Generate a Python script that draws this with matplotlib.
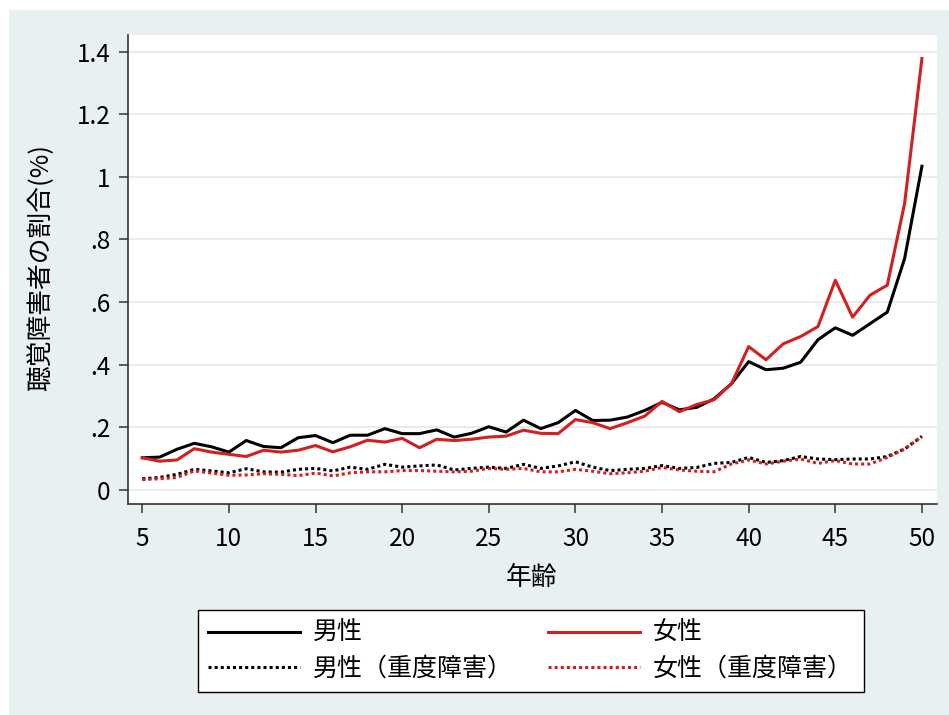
import numpy as np
import matplotlib.pyplot as plt
import matplotlib.patches as patches

plt.rcParams['font.family'] = ['Noto Sans CJK JP', 'DejaVu Sans']

# data
age = np.arange(5, 51)
male = [0.103, 0.105, 0.130, 0.149, 0.138, 0.121, 0.158, 0.139, 0.135, 0.167,
        0.174, 0.151, 0.175, 0.175, 0.196, 0.180, 0.180, 0.192, 0.169, 0.181,
        0.202, 0.185, 0.223, 0.196, 0.215, 0.254, 0.222, 0.223, 0.233, 0.254,
        0.280, 0.256, 0.264, 0.291, 0.339, 0.410, 0.384, 0.389, 0.408, 0.480,
        0.518, 0.494, 0.531, 0.568, 0.739, 1.034]
female = [0.103, 0.092, 0.096, 0.132, 0.121, 0.114, 0.107, 0.127, 0.121, 0.127,
          0.142, 0.122, 0.138, 0.159, 0.153, 0.165, 0.135, 0.162, 0.158, 0.162,
          0.169, 0.172, 0.191, 0.181, 0.180, 0.225, 0.215, 0.196, 0.215, 0.236,
          0.283, 0.250, 0.273, 0.288, 0.339, 0.458, 0.416, 0.467, 0.490, 0.522,
          0.670, 0.552, 0.622, 0.654, 0.915, 1.378]
male_severe = [0.036, 0.040, 0.050, 0.066, 0.061, 0.055, 0.068, 0.058, 0.057, 0.066,
               0.069, 0.061, 0.073, 0.066, 0.082, 0.073, 0.077, 0.080, 0.064, 0.069,
               0.073, 0.069, 0.082, 0.069, 0.077, 0.090, 0.073, 0.062, 0.066, 0.069,
               0.078, 0.069, 0.072, 0.085, 0.088, 0.104, 0.088, 0.094, 0.107, 0.099,
               0.097, 0.099, 0.099, 0.107, 0.131, 0.171]
female_severe = [0.033, 0.036, 0.040, 0.061, 0.054, 0.047, 0.048, 0.052, 0.050, 0.046,
                 0.054, 0.045, 0.055, 0.058, 0.058, 0.062, 0.062, 0.060, 0.058, 0.060,
                 0.069, 0.066, 0.069, 0.058, 0.058, 0.066, 0.060, 0.052, 0.055, 0.060,
                 0.072, 0.064, 0.060, 0.058, 0.083, 0.096, 0.083, 0.092, 0.099, 0.085,
                 0.094, 0.083, 0.083, 0.104, 0.131, 0.171]

yticks = [0, 0.2, 0.4, 0.6, 0.8, 1.0, 1.2, 1.4]
ytick_labels = ['0', '.2', '.4', '.6', '.8', '1', '1.2', '1.4']
xticks = [5, 10, 15, 20, 25, 30, 35, 40, 45, 50]
labels = ['男性', '女性', '男性（重度障害）', '女性（重度障害）']

W, H = 949, 715
red = '#d31f1f'
bg = '#e9f0f2'

fig = plt.figure(figsize=(W / 100, H / 100), dpi=100, facecolor='white')
fig.patches.append(patches.Rectangle((9 / W, 0), 1, 1 - 10 / H, transform=fig.transFigure,
                                     facecolor=bg, edgecolor='none', zorder=-10))

ax = fig.add_axes([128 / W, 1 - 504 / H, (937 - 128) / W, (504 - 35) / H])
ax.set_facecolor('white')

l1, = ax.plot(age, male, color='black', lw=2.2, label=labels[0])
l2, = ax.plot(age, female, color=red, lw=2.2, label=labels[1])
l3, = ax.plot(age, male_severe, color='black', lw=2.2, ls=(0, (1, 1)), label=labels[2])
l4, = ax.plot(age, female_severe, color=red, lw=2.2, ls=(0, (1, 1)), label=labels[3])

ax.set_xlim(4.175, 50.87)
ax.set_ylim(-0.0447, 1.453)
ax.set_yticks(yticks)
ax.set_yticklabels(ytick_labels)
ax.set_xticks(xticks)
ax.grid(axis='y', color='#e8e8e8', lw=1.3)
ax.set_axisbelow(True)
for s in ['top', 'right']:
    ax.spines[s].set_visible(False)
for s in ['left', 'bottom']:
    ax.spines[s].set_color('#333333')
    ax.spines[s].set_linewidth(1.2)
ax.tick_params(axis='both', labelsize=17.5, length=6.5, width=1.1, color='#333333')
ax.tick_params(axis='x', pad=9)
ax.tick_params(axis='y', pad=6)

fig.text(41 / W, 1 - 268 / H, '聴覚障害者の割合(%)', rotation=90, ha='center', va='center', fontsize=18.5)
fig.text(532 / W, 1 - 578 / H, '年齢', ha='center', va='center', fontsize=18.5)

# column-wise fill: 男性 / 男性（重度障害） in column 1
leg = fig.legend(handles=[l1, l3, l2, l4], ncol=2,
                 bbox_to_anchor=(198 / W, 1 - 610 / H), loc='upper left',
                 fontsize=18, frameon=True, fancybox=False,
                 edgecolor='black', framealpha=1, borderpad=0.41, labelspacing=0.38,
                 handlelength=3.68, handletextpad=0.52, columnspacing=1.4, borderaxespad=0)
leg.get_frame().set_linewidth(1.0)

fig.savefig('out.png', dpi=100, facecolor=fig.get_facecolor())
